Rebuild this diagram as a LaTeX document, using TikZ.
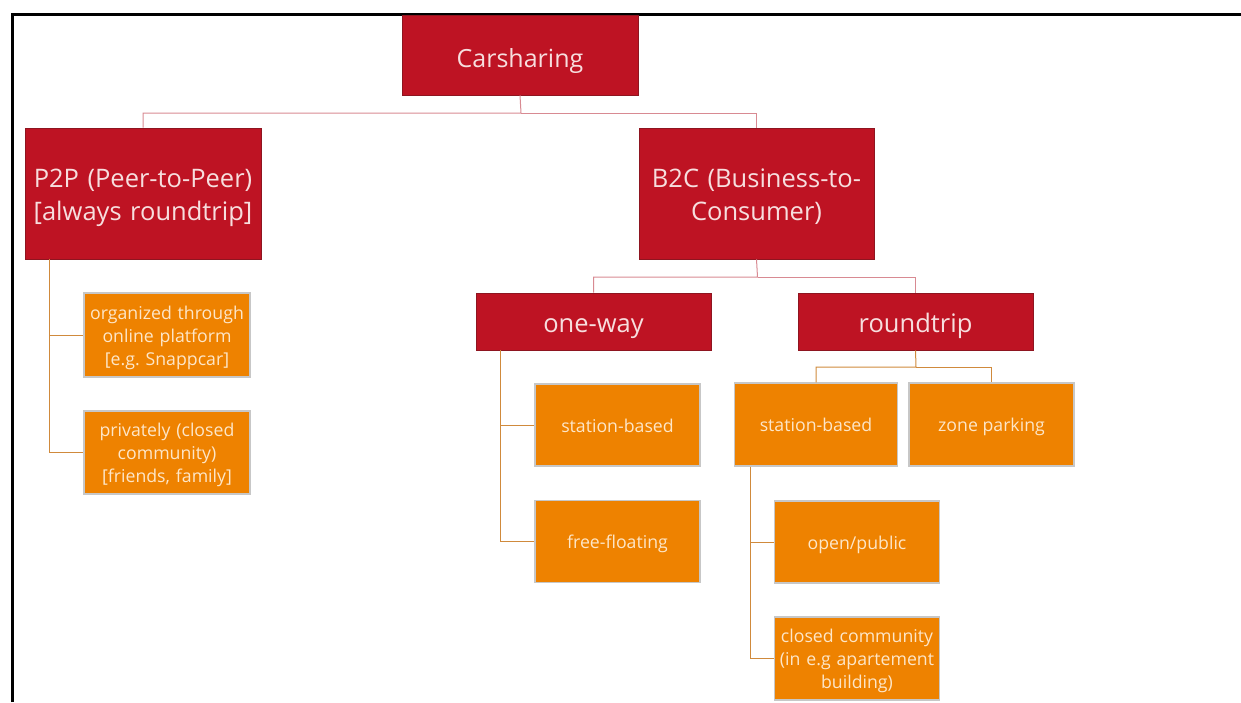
\documentclass[tikz,border=0pt]{standalone}
\usepackage{fontspec}
\setmainfont{Open Sans}
\usepackage{xcolor}
\usetikzlibrary{positioning, calc}

\definecolor{boxred}{HTML}{BE1323}
\definecolor{edgered}{HTML}{8E1520}
\definecolor{boxorange}{HTML}{EE8200}
\definecolor{linkred}{HTML}{D88A92}
\definecolor{linkorange}{HTML}{D08A3C}
\definecolor{txtred}{HTML}{F7DEDE}
\definecolor{txtorange}{HTML}{FDE6C8}

\begin{document}
\frenchspacing
\begin{tikzpicture}[x=1pt, y=-1pt,
    redbox/.style={rectangle, draw=edgered, fill=boxred, line width=0.8pt,
      text=txtred, inner sep=0pt, align=center, text height=28pt, text depth=6pt,
      font=\fontsize{25.5}{33}\selectfont},
    orangebox/.style={rectangle, draw=black!22, fill=boxorange, line width=1.2pt,
      text=txtorange, inner sep=0pt, align=center, minimum width=165pt,
      minimum height=82pt, text height=19pt, text depth=4.5pt,
      font=\fontsize{17.7}{23}\selectfont},
    threelines/.style={text width=165pt, text depth=50.5pt},
    redlink/.style={draw=linkred, line width=1pt},
    orangelink/.style={draw=linkorange, line width=1pt}]
    \useasboundingbox (0,0) rectangle (1241,702);

    % frame
    \draw[line width=3pt] (12,702) -- (12,14) -- (1241,14);

    % top levels
    \node[redbox, minimum width=236pt, minimum height=80pt, text height=30pt,
      font=\fontsize{25}{30}\selectfont] (car) at (520,55) {Carsharing};
    \node[redbox, minimum width=236pt, minimum height=131pt, text width=236pt,
      text height=27pt, text depth=39.4pt] (p2p) at (143,193.5) {P2P (Peer-to-Peer)\\{[always roundtrip]}};
    \node[redbox, minimum width=235pt, minimum height=131pt, text width=235pt,
      text height=27pt, text depth=39.4pt] (b2c) at (756.5,193.5) {B2C (Business-to-\\Consumer)};
    \node[redbox, minimum width=235pt, minimum height=57pt] (oneway) at (593.5,321.5) {one-way};
    \node[redbox, minimum width=235pt, minimum height=57pt] (round) at (915.5,321.5) {roundtrip};

    % leaves
    \node[orangebox, threelines, minimum width=166pt, minimum height=84pt] (org) at (167,335) {organized through\\online platform\\{[e.g. Snappcar]}};
    \node[orangebox, threelines, minimum width=166pt, minimum height=83pt] (priv) at (167,452.5) {privately (closed\\community)\\{[friends, family]}};
    \node[orangebox] (owstat) at (617.5,425) {station-based};
    \node[orangebox] (owfree) at (617.5,541.5) {free-floating};
    \node[orangebox, minimum width=163pt, minimum height=83pt] (rtstat) at (816,424.5) {station-based};
    \node[orangebox, minimum width=165pt, minimum height=83pt] (rtzone) at (991.5,424.5) {zone parking};
    \node[orangebox] (open) at (857,542) {open/public};
    \node[orangebox, threelines, minimum height=83pt] (closed) at (857,658.5) {closed community\\(in e.g apartement\\building)};

    % links
    \coordinate (carjoint) at (521,113);
    \draw[redlink] (car.south) -- (carjoint) -| (p2p.north);
    \draw[redlink] (carjoint) -| (b2c.north);
    \coordinate (b2cjoint) at (757.5,277);
    \draw[redlink] (b2c.south) -- (b2cjoint) -| (oneway.north);
    \draw[redlink] (b2cjoint) -| (round.north);
    \coordinate (rtjoint) at (916,367);
    \draw[orangelink] (round.south) -- (rtjoint) -| (rtstat.north);
    \draw[orangelink] (rtjoint) -| (rtzone.north);

    \draw[orangelink] ([xshift=25pt]p2p.south west) |- (org.west);
    \draw[orangelink] ([xshift=25pt]p2p.south west) |- (priv.west);
    \draw[orangelink] ([xshift=25pt]oneway.south west) |- (owstat.west);
    \draw[orangelink] ([xshift=25pt]oneway.south west) |- (owfree.west);
    \draw[orangelink] ([xshift=17pt]rtstat.south west) |- (open.west);
    \draw[orangelink] ([xshift=17pt]rtstat.south west) |- (closed.west);
  \end{tikzpicture}
\end{document}
